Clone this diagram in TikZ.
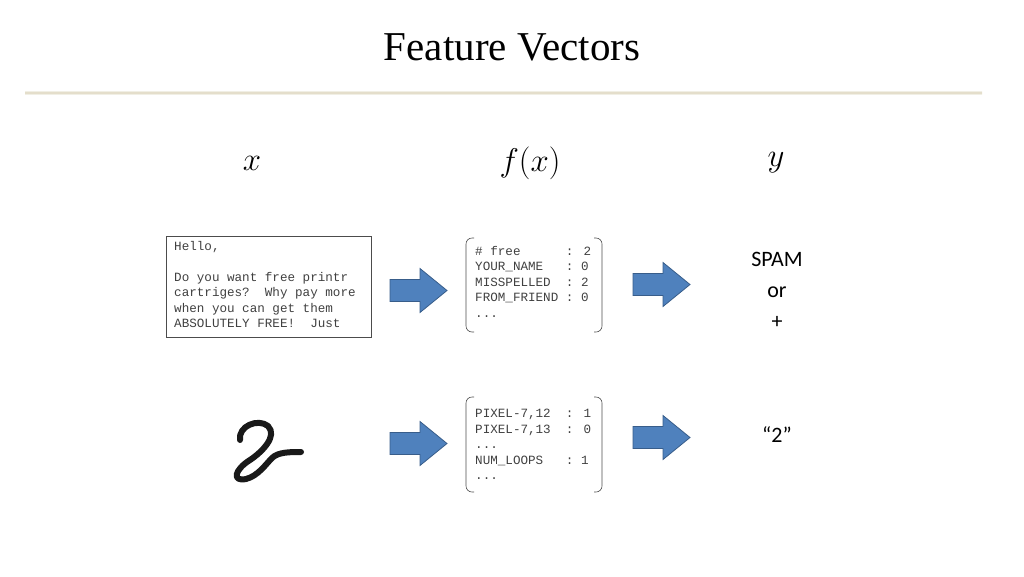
\documentclass[tikz,border=0pt]{standalone}
\usepackage{fontspec}
\setmainfont{Liberation Serif}
\newfontfamily\monof{Liberation Mono}
\newfontfamily\calib{Carlito}
\usepackage{amsmath}
\begin{document}
\begin{tikzpicture}[x=1pt,y=-1pt,
  blk/.style={fill={rgb,255:red,79;green,129;blue,189},draw={rgb,255:red,56;green,93;blue,138},line width=0.8pt},
  mono/.style={font=\monof\fontsize{12.6}{15.5}\selectfont,text=black!75,align=left,anchor=north west,inner sep=0pt},
  lab/.style={font=\calib\fontsize{22}{31}\selectfont,align=center},
  mth/.style={scale=1.9},
  brk/.style={draw=black!70,line width=0.6pt,rounded corners=6pt}]
\useasboundingbox (0,0) rectangle (1024,576);
\node (title) at (512,47) {\fontsize{41}{46}\selectfont Feature Vectors};
\fill[top color=white,bottom color=white,middle color={rgb,255:red,221;green,214;blue,190}] (25,90) rectangle (982,95);
\node[mth] (lx) at (252,163) {\LARGE$x$};
\node[mth] (lf) at (530,163) {\LARGE$f(x)$};
\node[mth] (ly) at (776,163) {\LARGE$y$};
% email
\draw[black!70,line width=0.6pt] (166,236) rectangle (371,337);
\begin{scope}
\clip (166,236) rectangle (371,337);
\node[mono] (email) at (174,241) {Hello,\\[15.5pt]Do you want free printr\\cartriges?\ \ Why pay more\\when you can get them\\ABSOLUTELY FREE!\ \ Just};
\end{scope}
% feature boxes
\foreach \yt/\yb in {238/332,397/492}{
 \draw[brk] (474,\yt) -- (466,\yt) -- (466,\yb) -- (474,\yb);
 \draw[brk] (594,\yt) -- (602,\yt) -- (602,\yb) -- (594,\yb);
}
\node[mono] (f1) at (475,246) {\# free\ \ \ \ \ \ : 2\\YOUR\_NAME\ \ \ : 0\\MISSPELLED\ \ : 2\\FROM\_FRIEND : 0\\...};
\node[mono] (f2) at (475,409) {PIXEL-7,12\ \ : 1\\PIXEL-7,13\ \ : 0\\...\\NUM\_LOOPS\ \ \ : 1\\...};
% arrows
\foreach \x/\y in {390/290.5,633/284.5,390/443.5,633/437.5}{
 \draw[blk] (\x,\y-11) -- (\x+30,\y-11) -- (\x+30,\y-22) -- (\x+57,\y) -- (\x+30,\y+22) -- (\x+30,\y+11) -- (\x,\y+11) -- cycle;
}
\node[lab] (spam) at (777,290) {SPAM\\or\\+};
\node[lab] (two) at (777,435) {“2”};
% handwritten 2
\draw[line width=6pt,line cap=round,line join=round,black!90]
 (240,440) .. controls (238,426) and (258,418) .. (268,426)
 .. controls (278,436) and (262,452) .. (250,460)
 .. controls (234,470) and (232,482) .. (246,479)
 .. controls (258,476) and (266,464) .. (272,458)
 .. controls (278,452) and (290,452) .. (301,452);
\end{tikzpicture}
\end{document}
